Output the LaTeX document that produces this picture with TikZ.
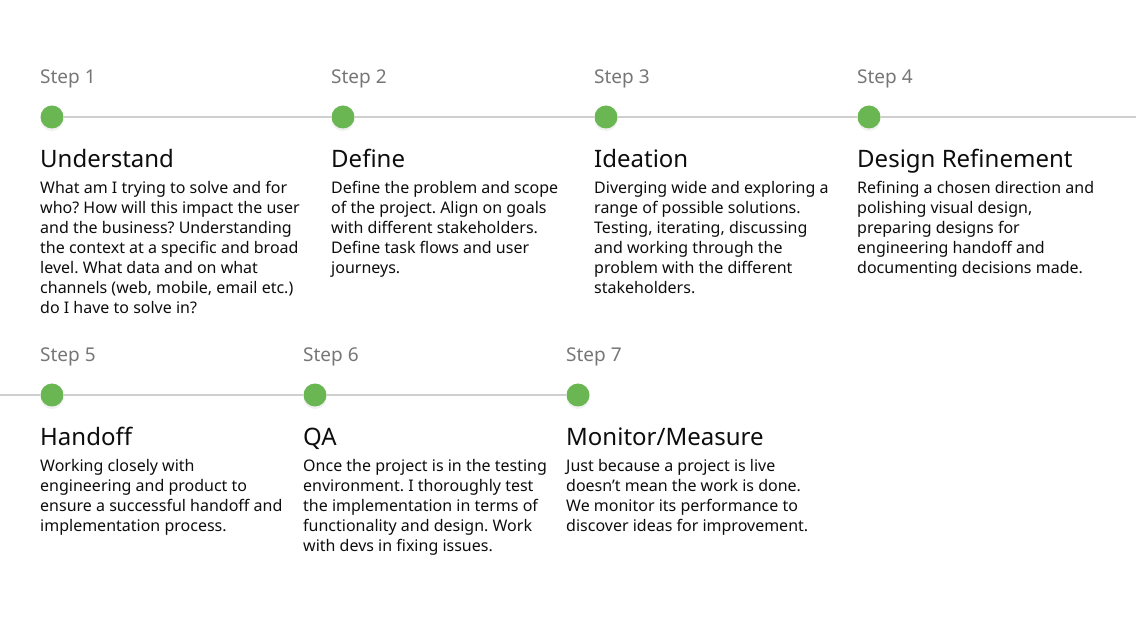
\documentclass[tikz,border=0pt]{standalone}
\usepackage{fontspec}
\setmainfont{Noto Sans}
\usepackage{tikz}
\usetikzlibrary{positioning}
\usetikzlibrary{shadows}
\frenchspacing
\definecolor{dotgreen}{HTML}{69B653}
\definecolor{labelgray}{HTML}{767676}
\definecolor{linegray}{HTML}{CFCFCF}
\definecolor{textblack}{HTML}{0D0D0D}
\tikzset{
  dot/.style={circle,fill=dotgreen,minimum size=23pt,inner sep=0pt,
    drop shadow={opacity=0.12,shadow xshift=0pt,shadow yshift=-2.5pt}},
  steplabel/.style={anchor=base west,inner sep=0pt,text=labelgray,
    font=\fontsize{19}{23}\selectfont},
  steptitle/.style={anchor=base west,inner sep=0pt,text=textblack,
    font=\fontsize{24}{28}\selectfont},
  stepbody/.style={anchor=north west,inner sep=0pt,align=left,text=textblack,
    font=\fontsize{16}{20}\selectfont},
  track/.style={draw=linegray,line width=2pt}
}

\begin{document}
\begin{tikzpicture}[x=1pt,y=-1pt]
\useasboundingbox (0,0) rectangle (1136,620);
% first row
\node [steplabel] at (40,83.3) (lab1) {Step 1};
\node [steplabel] at (331,83.3) (lab2) {Step 2};
\node [steplabel] at (594,83.3) (lab3) {Step 3};
\node [steplabel] at (857,83.3) (lab4) {Step 4};
\node [dot] at (52,117) (s1) {};
\node [dot] at (343,117) (s2) {};
\node [dot] at (606,117) (s3) {};
\node [dot] at (869,117) (s4) {};
\coordinate (end1) at (1136,117);
\draw [track] (s1) -- (s2);
\draw [track] (s2) -- (s3);
\draw [track] (s3) -- (s4);
\draw [track] (s4) -- (end1);
\node [steptitle] at (40,167.5) (t1) {Understand};
\node [steptitle] at (331,167.5) (t2) {Define};
\node [steptitle] at (594,167.5) (t3) {Ideation};
\node [steptitle] at (857,167.5) (t4) {Design Refinement};
\node [stepbody] at (40,181.2) (b1) {What am I trying to solve and for\\
  who? How will this impact the user\\and the business? Understanding\\
  the context at a specific and broad\\level. What data and on what\\
  channels (web, mobile, email etc.)\\do I have to solve in?};
\node [stepbody] at (331,181.2) (b2) {Define the problem and scope\\
  of the project. Align on goals\\with different stakeholders.\\
  Define task flows and user\\journeys.};
\node [stepbody] at (594,181.2) (b3) {Diverging wide and exploring a\\
  range of possible solutions.\\Testing, iterating, discussing\\
  and working through the\\problem with the different\\stakeholders.};
\node [stepbody] at (857,181.2) (b4) {Refining a chosen direction and\\
  polishing visual design,\\preparing designs for\\
  engineering handoff and\\documenting decisions made.};
% second row
\node [steplabel] at (40,361.5) (lab5) {Step 5};
\node [steplabel] at (303,361.5) (lab6) {Step 6};
\node [steplabel] at (566,361.5) (lab7) {Step 7};
\node [dot] at (52,395) (s5) {};
\node [dot] at (315,395) (s6) {};
\node [dot] at (578,395) (s7) {};
\coordinate (start2) at (0,395);
\draw [track] (start2) -- (s5);
\draw [track] (s5) -- (s6);
\draw [track] (s6) -- (s7);
\node [steptitle] at (40,445.5) (t5) {Handoff};
\node [steptitle] at (303,445.5) (t6) {QA};
\node [steptitle] at (566,445.5) (t7) {Monitor/Measure};
\node [stepbody] at (40,459.2) (b5) {Working closely with\\
  engineering and product to\\ensure a successful handoff and\\
  implementation process.};
\node [stepbody] at (303,459.2) (b6) {Once the project is in the testing\\
  environment. I thoroughly test\\the implementation in terms of\\
  functionality and design. Work\\with devs in fixing issues.};
\node [stepbody] at (566,459.2) (b7) {Just because a project is live\\
  doesn’t mean the work is done.\\We monitor its performance to\\
  discover ideas for improvement.};
\end{tikzpicture}
\end{document}
